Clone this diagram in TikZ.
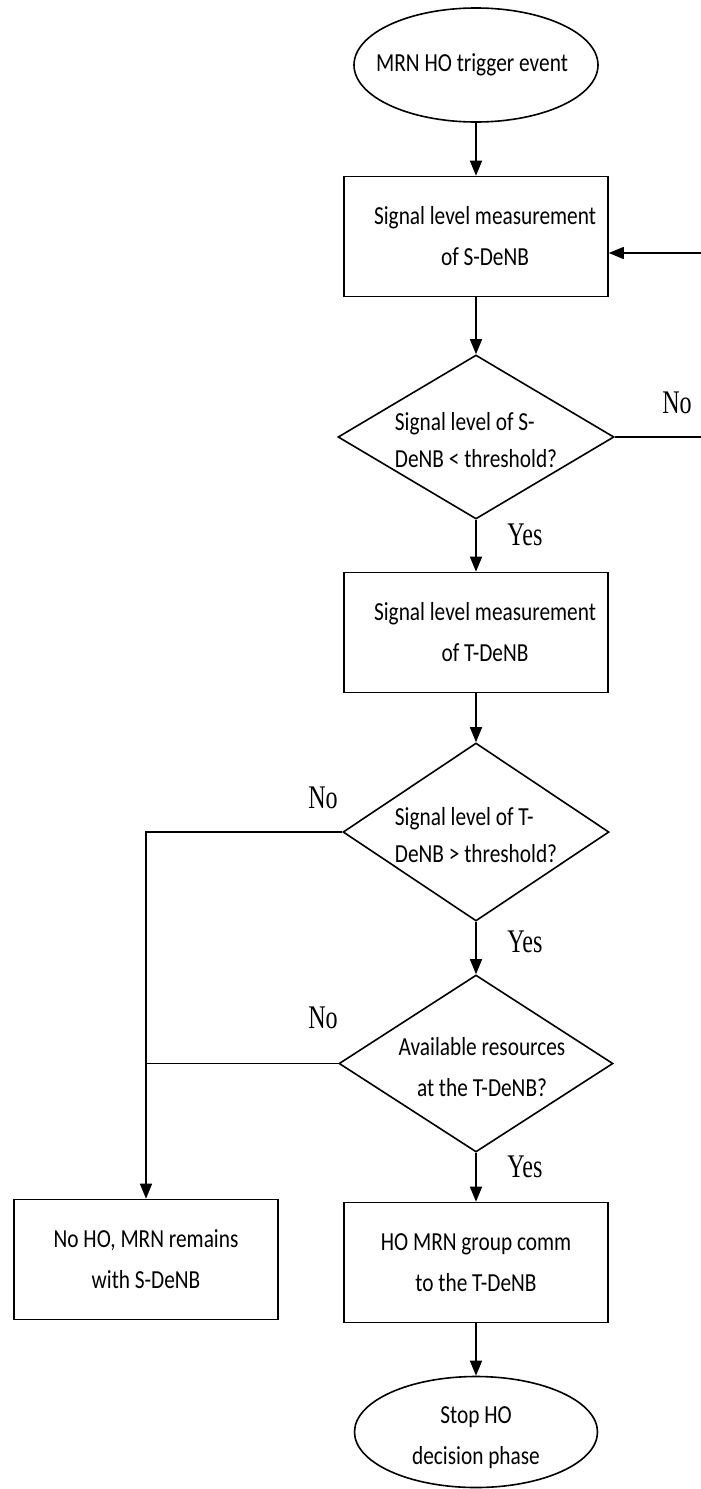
\documentclass[tikz,border=0pt]{standalone}
\usepackage{fontspec}
\setmainfont{Carlito}[FakeStretch=0.82]
\newfontfamily\lblfont{Liberation Serif}[FakeStretch=0.73]
\usetikzlibrary{shapes.geometric, arrows.meta, positioning}

\begin{document}
\begin{tikzpicture}[x=0.5pt, y=-0.5pt, line width=0.8pt,
  txt/.style={align=center, font=\fontsize{13}{20.5}\selectfont},
  dectxt/.style={align=left, font=\fontsize{13}{18.5}\selectfont, yshift=-1.5pt},
  box/.style={draw, rectangle, txt, inner sep=0pt, minimum width=132pt, minimum height=60pt},
  term/.style={draw, ellipse, inner sep=0pt, minimum width=122pt, minimum height=57pt},
  dec/.style={draw, diamond, inner sep=0pt},
  flow/.style={-{Triangle[length=7.5pt,width=6pt]}},
  yesno/.style={font=\lblfont\fontsize{16.5}{18}\selectfont}]
\useasboundingbox (0,0) rectangle (701,1489);

% main column
\node (start) at (476,65) [term, label={[txt,xshift=-2pt]center:MRN HO trigger event}] {};
\node (measS) at (476,236.5) [box, label={[txt,xshift=4.5pt]center:{Signal level measurement\\of S-DeNB}}] {};
\node (testS) at (476,437) [dec, minimum width=138pt, minimum height=82pt,
  label={[dectxt]center:{Signal level of S-\\DeNB < threshold?}}] {};
\node (measT) at (476,632.5) [box, label={[txt,xshift=4.5pt]center:{Signal level measurement\\of T-DeNB}}] {};
\node (testT) at (476,832) [dec, minimum width=133pt, minimum height=89pt,
  label={[dectxt]center:{Signal level of T-\\DeNB > threshold?}}] {};
\node (testR) at (476,1063.5) [dec, minimum width=137pt, minimum height=88.5pt,
  label={[txt,yshift=-2pt,xshift=3pt]center:{Available resources\\at the T-DeNB?}}] {};
\node (doHO) at (476,1262.5) [box] {HO MRN group comm\\to the T-DeNB};
\node (stop) at (476,1432) [term, minimum width=121.5pt, minimum height=55.5pt,
  label={[txt,yshift=-3pt]center:{Stop HO\\decision phase}}] {};
\node (noHO) at (146,1259.5) [box] {No HO, MRN remains\\with S-DeNB};

% loop back on the right
\coordinate (outR) at (701,437);
\coordinate (backR) at (701,253);

\draw [flow] (start) -- (measS);
\draw [flow] (measS) -- (testS);
\draw [flow] (testS) -- (measT);
\draw [flow] (measT) -- (testT);
\draw [flow] (testT) -- (testR);
\draw [flow] (testR) -- (doHO);
\draw [flow] (doHO) -- (stop);
\draw (testS.east) -- (outR);
\draw [flow] (backR) -- (backR -| measS.east);
\draw [flow] (testT.west) -| (noHO.north);
\draw (testR.west) -- (testR.west -| noHO.north);

\node (yes1) at (525,535) [yesno] {Yes};
\node (yes2) at (525,942) [yesno] {Yes};
\node (yes3) at (525,1167) [yesno] {Yes};
\node (no1) at (677,403) [yesno] {No};
\node (no2) at (323,798) [yesno] {No};
\node (no3) at (323,1018) [yesno] {No};
\end{tikzpicture}
\end{document}
